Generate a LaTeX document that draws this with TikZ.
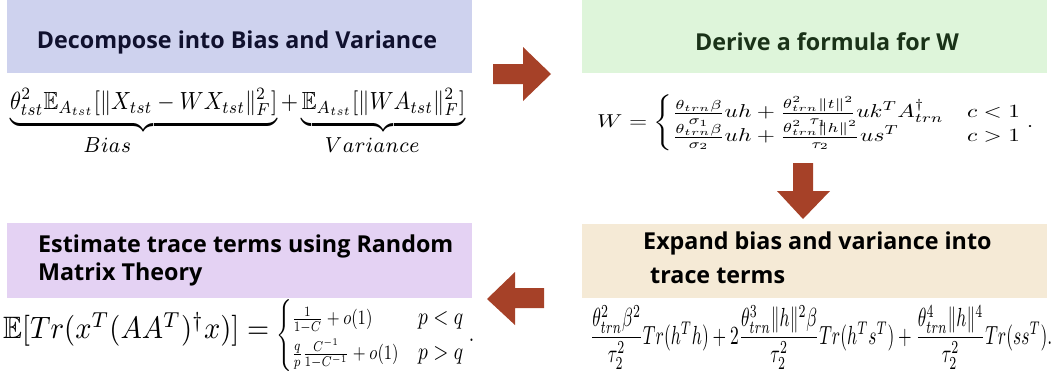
\documentclass[tikz,border=0pt]{standalone}
\usepackage{amsmath,amssymb,graphicx}
\usepackage{fontspec}
\newfontfamily\titlefont{Open Sans}[BoldFont={* Bold}]
\definecolor{boxblue}{RGB}{206,210,238}
\definecolor{boxgreen}{RGB}{222,245,218}
\definecolor{boxpurple}{RGB}{228,210,243}
\definecolor{boxbeige}{RGB}{245,234,214}
\definecolor{arrowred}{RGB}{166,65,40}
\definecolor{navytxt}{RGB}{16,17,46}
\definecolor{greentxt}{RGB}{26,50,24}
\newcommand{\brlabel}[1]{\scalebox{1.25}{$\scriptstyle #1$}}
\tikzset{
  titletxt/.style={font=\titlefont\bfseries\fontsize{23.3}{28}\selectfont, inner sep=0pt, anchor=base},
  blockarrow/.style={fill=arrowred, draw=none},
  eq/.style={inner sep=0pt}
}
\begin{document}
\begin{tikzpicture}[x=1pt,y=-1pt]
\useasboundingbox (0,0) rectangle (1060,381);
% panels
\fill[boxblue] (7,0) rectangle (472,73);
\fill[boxgreen] (582,0) rectangle (1047,73);
\fill[boxpurple] (7,223) rectangle (472,298);
\fill[boxbeige] (582,224) rectangle (1047,298);
% titles
\node[titletxt, text=navytxt] (t1) at (237,48) {Decompose into Bias and Variance};
\node[titletxt, text=greentxt] (t2) at (827,50) {Derive a formula for W};
\node[titletxt, anchor=base west] (t3a) at (38,252) {Estimate trace terms using Random};
\node[titletxt, anchor=base west] (t3b) at (38,280) {Matrix Theory};
\node[titletxt, anchor=base west] (t4a) at (643,249) {Expand bias and variance into};
\node[titletxt, anchor=base west] (t4b) at (650,283) {trace terms};
% equations
\node[eq, anchor=north west] (e1) at (10,88) {\resizebox*{455pt}{67pt}{$\underbrace{\theta_{tst}^2\mathbb{E}_{A_{tst}}[\|X_{tst}-WX_{tst}\|_F^2]}_{\brlabel{Bias}}+\underbrace{\mathbb{E}_{A_{tst}}[\|WA_{tst}\|_F^2]}_{\brlabel{Variance}}$}};
\node[eq, anchor=north west] (e2) at (597,95) {\resizebox*{436pt}{56pt}{$W=\begin{cases}\frac{\theta_{trn}\beta}{\sigma_1}uh+\frac{\theta_{trn}^2\|t\|^2}{\tau_1}uk^TA_{trn}^\dagger & c<1\\[-3pt] \frac{\theta_{trn}\beta}{\sigma_2}uh+\frac{\theta_{trn}^2\|h\|^2}{\tau_2}us^T & c>1\end{cases}.$}};
\node[eq, anchor=west] (e3l) at (3,329) {\resizebox*{266pt}{34pt}{$\mathbb{E}[Tr(x^T(AA^T)^\dagger x)]=$}};
\node[eq, anchor=north west] (e3r) at (276,299) {\resizebox*{198pt}{72pt}{$\begin{cases}\scalebox{0.85}{$\frac{1}{1-C}+o(1)$} & p<q\\ \scalebox{0.85}{$\frac{q}{p}\frac{C^{-1}}{1-C^{-1}}+o(1)$} & p>q\end{cases}.$}};
\node[eq, anchor=north west] (e4) at (590,305) {\resizebox*{462pt}{64pt}{$\dfrac{\theta_{trn}^2\beta^2}{\tau_2^2}Tr(h^Th)+2\dfrac{\theta_{trn}^3\|h\|^2\beta}{\tau_2^2}Tr(h^Ts^T)+\dfrac{\theta_{trn}^4\|h\|^4}{\tau_2^2}Tr(ss^T).$}};
% block arrows
\fill[blockarrow] (493,64) -- (523,64) -- (523,47) -- (551,74) -- (523,101) -- (523,84) -- (493,84) -- cycle;
\fill[blockarrow] (793,163) -- (813,163) -- (813,191) -- (830,191) -- (803,219) -- (777,191) -- (793,191) -- cycle;
\fill[blockarrow] (544,288) -- (515,288) -- (515,272) -- (487,299) -- (515,325) -- (515,308) -- (544,308) -- cycle;
\end{tikzpicture}
\end{document}
